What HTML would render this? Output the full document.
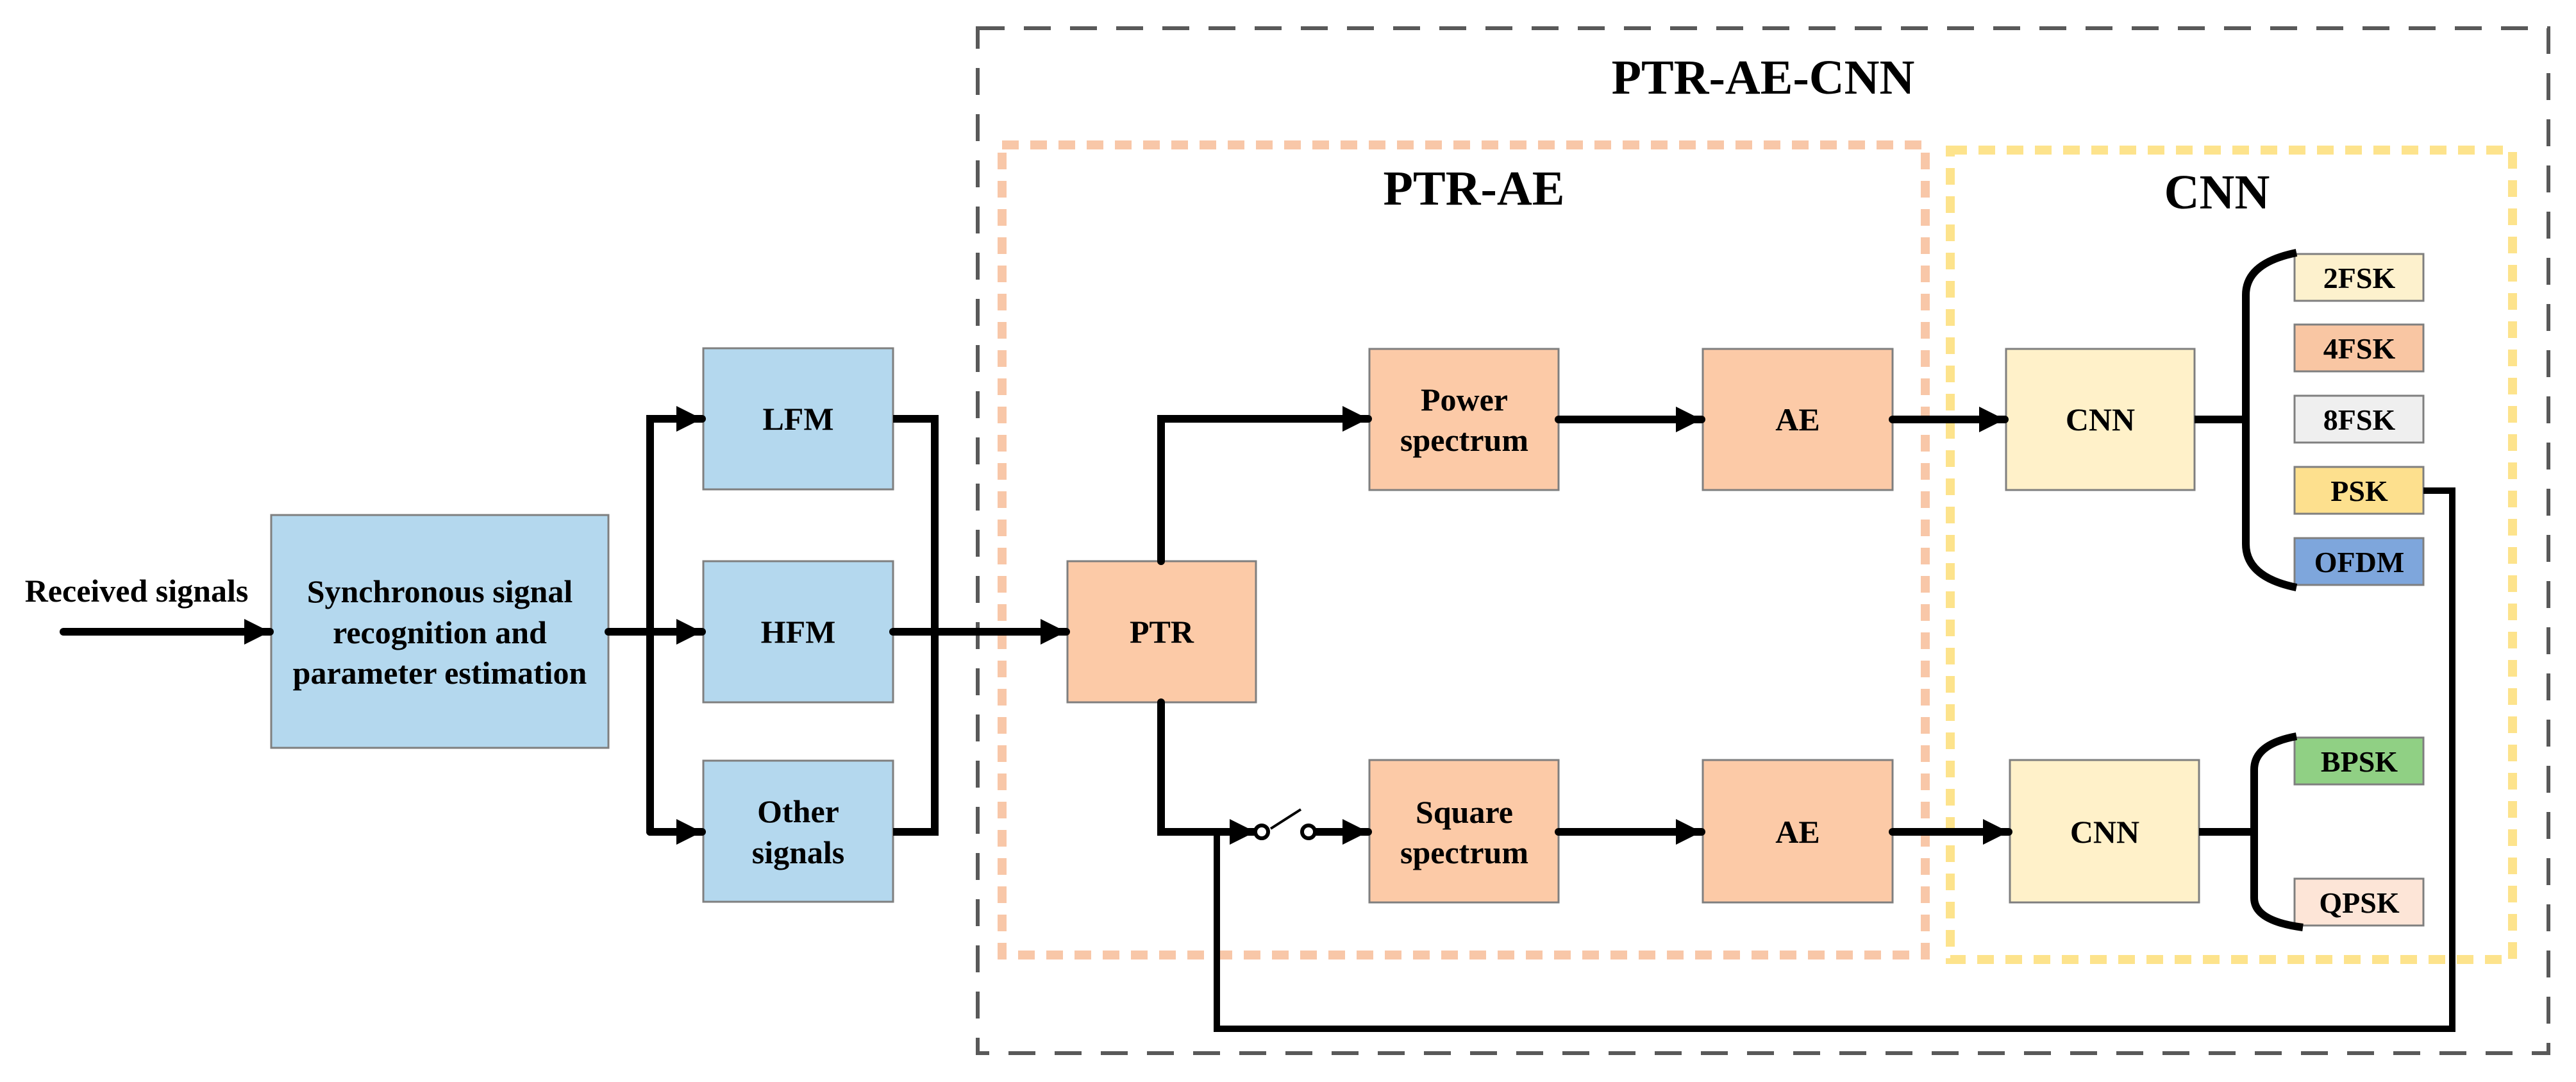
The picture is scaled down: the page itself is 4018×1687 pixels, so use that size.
<!DOCTYPE html>
<html><head><meta charset="utf-8"><style>
html,body{margin:0;padding:0;background:#fff;}
svg{display:block;}
</style></head><body>
<svg width="4018" height="1687" viewBox="0 0 4018 1687" xmlns="http://www.w3.org/2000/svg">
<defs>
<marker id="ah" markerUnits="userSpaceOnUse" markerWidth="44" markerHeight="44" refX="40" refY="22" orient="auto">
<path d="M0,2 L40,22 L0,42 Z" fill="#000"/>
</marker>
</defs>
<!-- dashed containers -->
<rect x="1525" y="44" width="2450" height="1598" fill="none" stroke="#595959" stroke-width="6" stroke-dasharray="42,30"/>
<rect x="1563" y="226" width="1440" height="1263" fill="none" stroke="#f8c7a8" stroke-width="14" stroke-dasharray="26,18"/>
<rect x="3042" y="234" width="877" height="1262" fill="none" stroke="#fde38c" stroke-width="14" stroke-dasharray="26,18"/>

<!-- boxes -->
<g stroke="#7f7f7f" stroke-width="3">
<rect x="423" y="803" width="526" height="363" fill="#b4d8ee"/>
<rect x="1097" y="543" width="296" height="220" fill="#b4d8ee"/>
<rect x="1097" y="875" width="296" height="220" fill="#b4d8ee"/>
<rect x="1097" y="1186" width="296" height="220" fill="#b4d8ee"/>
<rect x="1665" y="875" width="294" height="220" fill="#fccaa7"/>
<rect x="2136" y="544" width="295" height="220" fill="#fccaa7"/>
<rect x="2656" y="544" width="296" height="220" fill="#fccaa7"/>
<rect x="2136" y="1185" width="295" height="222" fill="#fccaa7"/>
<rect x="2656" y="1185" width="296" height="222" fill="#fccaa7"/>
<rect x="3129" y="544" width="294" height="220" fill="#fff1c9"/>
<rect x="3135" y="1185" width="295" height="222" fill="#fff1c9"/>
<rect x="3579" y="396" width="201" height="73" fill="#fdf1cd"/>
<rect x="3579" y="506" width="201" height="73" fill="#f9c6a3"/>
<rect x="3579" y="617" width="201" height="73" fill="#efefef"/>
<rect x="3579" y="728" width="201" height="73" fill="#fde08e"/>
<rect x="3579" y="839" width="201" height="73" fill="#7ea6dc"/>
<rect x="3579" y="1150" width="201" height="73" fill="#90d084"/>
<rect x="3579" y="1370" width="201" height="73" fill="#fde5d7"/>
</g>

<!-- text -->
<g font-family="Liberation Serif, serif" font-weight="bold" text-anchor="middle" fill="#000">
<text x="2750" y="146" font-size="76">PTR-AE-CNN</text>
<text x="2299" y="319" font-size="76">PTR-AE</text>
<text x="3458" y="325" font-size="76">CNN</text>
<text x="213" y="938" font-size="50">Received signals</text>
<text x="686" y="939" font-size="50">Synchronous signal</text>
<text x="686" y="1003" font-size="50">recognition and</text>
<text x="686" y="1066" font-size="50">parameter estimation</text>
<text x="1245" y="670" font-size="50">LFM</text>
<text x="1245" y="1002" font-size="50">HFM</text>
<text x="1245" y="1282" font-size="50">Other</text>
<text x="1245" y="1346" font-size="50">signals</text>
<text x="1812" y="1002" font-size="50">PTR</text>
<text x="2284" y="640" font-size="50">Power</text>
<text x="2284" y="703" font-size="50">spectrum</text>
<text x="2804" y="671" font-size="50">AE</text>
<text x="2284" y="1283" font-size="50">Square</text>
<text x="2284" y="1346" font-size="50">spectrum</text>
<text x="2804" y="1314" font-size="50">AE</text>
<text x="3276" y="671" font-size="50">CNN</text>
<text x="3283" y="1314" font-size="50">CNN</text>
<text x="3680" y="449" font-size="46">2FSK</text>
<text x="3680" y="559" font-size="46">4FSK</text>
<text x="3680" y="670" font-size="46">8FSK</text>
<text x="3680" y="781" font-size="46">PSK</text>
<text x="3680" y="892" font-size="46">OFDM</text>
<text x="3680" y="1203" font-size="46">BPSK</text>
<text x="3680" y="1423" font-size="46">QPSK</text>
</g>

<!-- connectors -->
<g stroke="#000" stroke-width="12" fill="none" stroke-linecap="round" stroke-linejoin="miter">
<line x1="99" y1="985" x2="421" y2="985" marker-end="url(#ah)"/>
<line x1="949" y1="985" x2="1095" y2="985" marker-end="url(#ah)"/>
<polyline points="1014,1297 1014,653 1095,653" marker-end="url(#ah)"/>
<line x1="1014" y1="1297" x2="1095" y2="1297" marker-end="url(#ah)"/>
<polyline points="1393,653 1458,653 1458,1297 1393,1297" stroke-linecap="butt"/>
<line x1="1393" y1="985" x2="1663" y2="985" marker-end="url(#ah)"/>
<polyline points="1811,875 1811,653 2134,653" marker-end="url(#ah)"/>
<polyline points="1811,1095 1811,1297 1958,1297" marker-end="url(#ah)"/>
<line x1="2053" y1="1297" x2="2134" y2="1297" marker-end="url(#ah)"/>
<line x1="2431" y1="654" x2="2654" y2="654" marker-end="url(#ah)"/>
<line x1="2952" y1="654" x2="3127" y2="654" marker-end="url(#ah)"/>
<line x1="2431" y1="1297" x2="2654" y2="1297" marker-end="url(#ah)"/>
<line x1="2952" y1="1297" x2="3133" y2="1297" marker-end="url(#ah)"/>
<line x1="3423" y1="654" x2="3503" y2="654" stroke-linecap="butt"/>
<path d="M3582,394 Q3503,410 3503,460 L3503,848 Q3503,900 3582,916" stroke-linecap="butt"/>
<line x1="3430" y1="1297" x2="3516" y2="1297" stroke-linecap="butt"/>
<path d="M3582,1148 Q3516,1160 3516,1200 L3516,1400 Q3516,1436 3592,1446" stroke-linecap="butt"/>
<polyline points="3780,765 3825,765 3825,1604 1898,1604 1898,1297" stroke-width="10" stroke-linecap="butt"/>
</g>
<!-- switch -->
<circle cx="1968" cy="1297" r="10" fill="#fff" stroke="#000" stroke-width="6"/>
<circle cx="2041" cy="1297" r="10" fill="#fff" stroke="#000" stroke-width="6"/>
<line x1="1982" y1="1292" x2="2029" y2="1262" stroke="#000" stroke-width="4"/>
</svg>
</body></html>
